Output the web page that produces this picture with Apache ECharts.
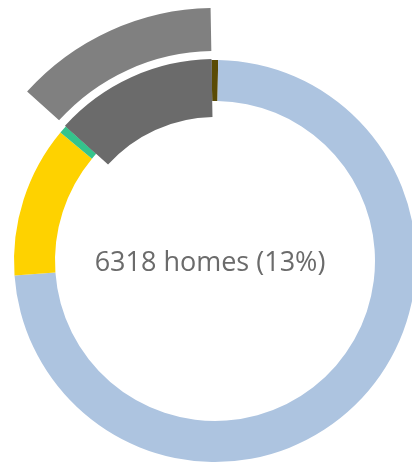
<!DOCTYPE html>
<html>
<head>
<meta charset="utf-8">
<script src="https://cdn.jsdelivr.net/npm/echarts@6/dist/echarts.min.js"></script>
<style>
  html, body { margin: 0; padding: 0; background: #ffffff; }
  #chart { width: 412px; height: 464px; }
</style>
</head>
<body>
<div id="chart"></div>
<script>
// Homes by category, clockwise from the top of the ring
const categories = ['Other', 'Category A', 'Category B', 'Category C', 'Selected'];
const homes = [256, 35650, 5900, 310, 6318];
const colors = ['#5a4b05', '#adc4e0', '#fed200', '#35c48c', '#6b6b6b'];
const selectedIndex = 4;
const centerLabel = '6318 homes (13%)';

const chart = echarts.init(document.getElementById('chart'), null, { renderer: 'canvas' });

const center = [215, 261];

function ringData(colorFor) {
  return categories.map((name, i) => ({
    name,
    value: homes[i],
    itemStyle: { color: colorFor(i) }
  }));
}

const common = {
  type: 'pie',
  center,
  startAngle: 91,
  clockwise: true,
  silent: true,
  animation: false,
  label: { show: false },
  labelLine: { show: false },
  itemStyle: { borderWidth: 0 },
  emphasis: { disabled: true }
};

chart.setOption({
  backgroundColor: '#ffffff',
  series: [
    Object.assign({}, common, {
      radius: [160, 201],
      data: ringData(i => colors[i])
    }),
    // selected slice drawn thicker, reaching further inward
    Object.assign({}, common, {
      radius: [144, 202],
      data: ringData(i => i === selectedIndex ? colors[i] : 'rgba(0,0,0,0)')
    }),
    // detached highlight arc outside the selected slice
    Object.assign({}, common, {
      radius: [210, 253],
      data: ringData(i => i === selectedIndex ? '#808080' : 'rgba(0,0,0,0)')
    })
  ],
  graphic: [{
    type: 'text',
    x: 210,
    y: 263,
    style: {
      text: centerLabel,
      font: '27px "Open Sans"',
      fill: '#6b6b6b',
      textAlign: 'center',
      textVerticalAlign: 'middle'
    }
  }]
});
</script>
</body>
</html>
